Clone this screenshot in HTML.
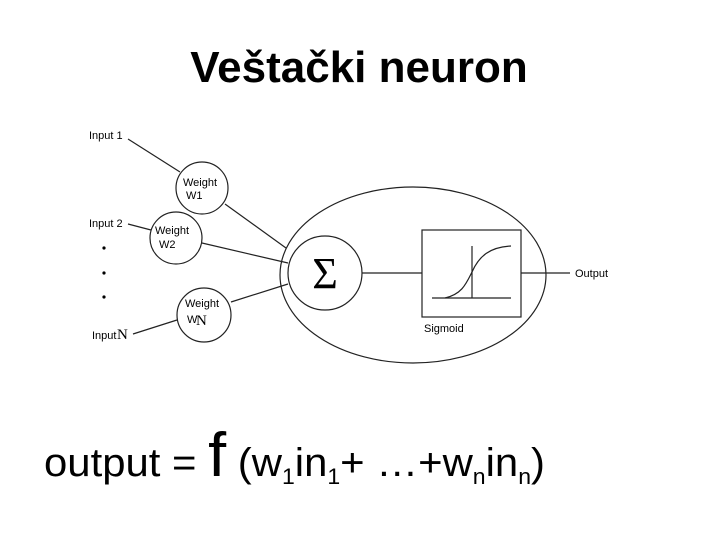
<!DOCTYPE html>
<html><head><meta charset="utf-8"><style>
html,body{margin:0;padding:0;background:#fff;width:720px;height:540px;overflow:hidden}
svg{display:block}
</style></head><body>
<svg width="720" height="540" xmlns="http://www.w3.org/2000/svg" font-family="Liberation Sans, Arial, sans-serif">
<text x="359" y="82" font-size="44" font-weight="bold" text-anchor="middle" fill="#000">Veštački neuron</text>
<g stroke="#222" fill="none" stroke-width="1.2">
<ellipse cx="413" cy="275" rx="133" ry="88"/>
<circle cx="325" cy="273" r="37" fill="#fff"/>
<rect x="422" y="230" width="99" height="87"/>
<line x1="362" y1="273" x2="422" y2="273"/>
<line x1="521" y1="273" x2="570" y2="273"/>
<line x1="432" y1="298" x2="511" y2="298"/>
<line x1="472" y1="246" x2="472" y2="298"/>
<path d="M445 298 C462 294 466 284 472 272 C479 256 490 247 511 246"/>
<circle cx="202" cy="188" r="26"/>
<circle cx="176" cy="238" r="26"/>
<circle cx="204" cy="315" r="27"/>
<line x1="128" y1="139" x2="180" y2="172"/>
<line x1="225" y1="204" x2="286" y2="248"/>
<line x1="128" y1="224" x2="151" y2="230"/>
<line x1="202" y1="243" x2="288" y2="263"/>
<line x1="231" y1="302" x2="288" y2="284"/>
<line x1="133" y1="334" x2="177" y2="320"/>
</g>
<g fill="#000">
<circle cx="104" cy="248" r="1.6"/><circle cx="104" cy="273" r="1.6"/><circle cx="104" cy="297" r="1.6"/>
</g>
<text x="325" y="288" font-family="Liberation Serif, serif" font-size="44" text-anchor="middle">Σ</text>
<g font-size="11" fill="#000">
<text x="89" y="139">Input 1</text>
<text x="89" y="227">Input 2</text>
<text x="92" y="339">Input</text><text x="117" y="339" font-family="Liberation Serif, serif" font-size="15">N</text>
<text x="183" y="186">Weight</text><text x="186" y="199">W1</text>
<text x="155" y="234">Weight</text><text x="159" y="248">W2</text>
<text x="185" y="307">Weight</text><text x="187" y="323">W</text><text x="196" y="325" font-family="Liberation Serif, serif" font-size="15">N</text>
<text x="575" y="277">Output</text>
<text x="424" y="332">Sigmoid</text>
</g>
<text x="44" y="476" font-size="40" fill="#000" textLength="501" lengthAdjust="spacingAndGlyphs">output = <tspan font-size="62">f</tspan> (w<tspan font-size="22" dy="8">1</tspan><tspan dy="-8">in</tspan><tspan font-size="22" dy="8">1</tspan><tspan dy="-8">+ …+w</tspan><tspan font-size="22" dy="8">n</tspan><tspan dy="-8">in</tspan><tspan font-size="22" dy="8">n</tspan><tspan dy="-8">)</tspan></text>
</svg>
</body></html>
